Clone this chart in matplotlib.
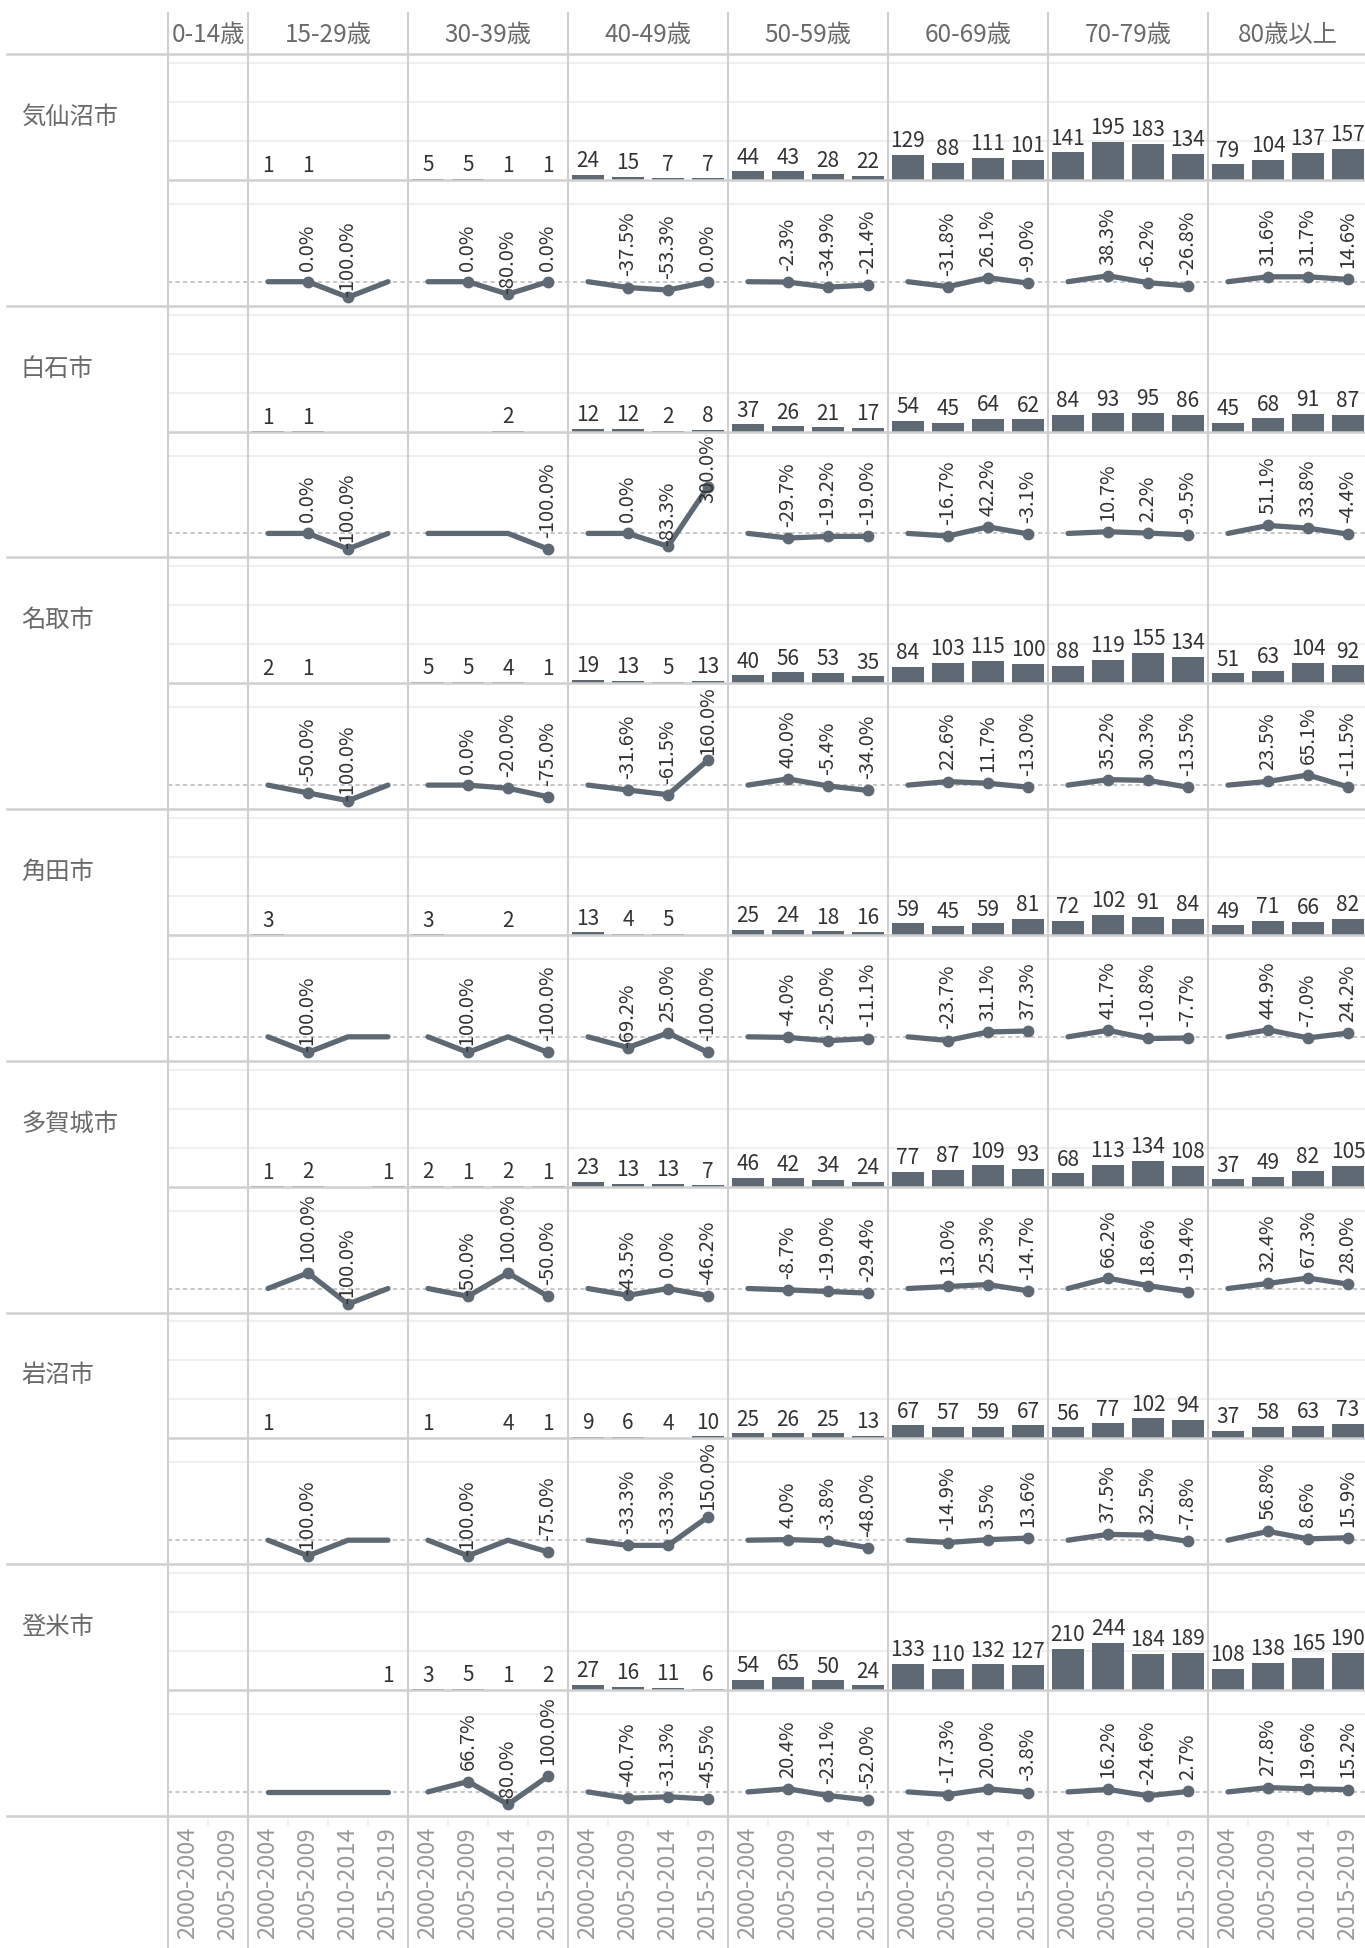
import numpy as np
import matplotlib
matplotlib.use("Agg")
import matplotlib.pyplot as plt

plt.rcParams['font.family'] = ['Noto Sans CJK JP', 'DejaVu Sans']

# ---------------- data ---------------- #
cities = ["気仙沼市", "白石市", "名取市", "角田市", "多賀城市", "岩沼市", "登米市"]
age_groups = ["0-14歳", "15-29歳", "30-39歳", "40-49歳", "50-59歳", "60-69歳", "70-79歳", "80歳以上"]
periods = ["2000-2004", "2005-2009", "2010-2014", "2015-2019"]
periods_per_group = [2, 4, 4, 4, 4, 4, 4, 4]

# counts per age group (None = no record)
kesennuma_counts = [[None, None], [1, 1, None, None], [5, 5, 1, 1], [24, 15, 7, 7], [44, 43, 28, 22],
                    [129, 88, 111, 101], [141, 195, 183, 134], [79, 104, 137, 157]]
shiroishi_counts = [[None, None], [1, 1, None, None], [None, None, 2, None], [12, 12, 2, 8], [37, 26, 21, 17],
                    [54, 45, 64, 62], [84, 93, 95, 86], [45, 68, 91, 87]]
natori_counts = [[None, None], [2, 1, None, None], [5, 5, 4, 1], [19, 13, 5, 13], [40, 56, 53, 35],
                 [84, 103, 115, 100], [88, 119, 155, 134], [51, 63, 104, 92]]
kakuda_counts = [[None, None], [3, None, None, None], [3, None, 2, None], [13, 4, 5, None], [25, 24, 18, 16],
                 [59, 45, 59, 81], [72, 102, 91, 84], [49, 71, 66, 82]]
tagajo_counts = [[None, None], [1, 2, None, 1], [2, 1, 2, 1], [23, 13, 13, 7], [46, 42, 34, 24],
                 [77, 87, 109, 93], [68, 113, 134, 108], [37, 49, 82, 105]]
iwanuma_counts = [[None, None], [1, None, None, None], [1, None, 4, 1], [9, 6, 4, 10], [25, 26, 25, 13],
                  [67, 57, 59, 67], [56, 77, 102, 94], [37, 58, 63, 73]]
tome_counts = [[None, None], [None, None, None, 1], [3, 5, 1, 2], [27, 16, 11, 6], [54, 65, 50, 24],
               [133, 110, 132, 127], [210, 244, 184, 189], [108, 138, 165, 190]]

# change vs previous period in % (None = not shown)
kesennuma_pct = [[None, None], [None, 0.0, -100.0, None], [None, 0.0, -80.0, 0.0], [None, -37.5, -53.3, 0.0],
                 [None, -2.3, -34.9, -21.4], [None, -31.8, 26.1, -9.0], [None, 38.3, -6.2, -26.8],
                 [None, 31.6, 31.7, 14.6]]
shiroishi_pct = [[None, None], [None, 0.0, -100.0, None], [None, None, None, -100.0], [None, 0.0, -83.3, 300.0],
                 [None, -29.7, -19.2, -19.0], [None, -16.7, 42.2, -3.1], [None, 10.7, 2.2, -9.5],
                 [None, 51.1, 33.8, -4.4]]
natori_pct = [[None, None], [None, -50.0, -100.0, None], [None, 0.0, -20.0, -75.0], [None, -31.6, -61.5, 160.0],
              [None, 40.0, -5.4, -34.0], [None, 22.6, 11.7, -13.0], [None, 35.2, 30.3, -13.5],
              [None, 23.5, 65.1, -11.5]]
kakuda_pct = [[None, None], [None, -100.0, None, None], [None, -100.0, None, -100.0], [None, -69.2, 25.0, -100.0],
              [None, -4.0, -25.0, -11.1], [None, -23.7, 31.1, 37.3], [None, 41.7, -10.8, -7.7],
              [None, 44.9, -7.0, 24.2]]
tagajo_pct = [[None, None], [None, 100.0, -100.0, None], [None, -50.0, 100.0, -50.0], [None, -43.5, 0.0, -46.2],
              [None, -8.7, -19.0, -29.4], [None, 13.0, 25.3, -14.7], [None, 66.2, 18.6, -19.4],
              [None, 32.4, 67.3, 28.0]]
iwanuma_pct = [[None, None], [None, -100.0, None, None], [None, -100.0, None, -75.0], [None, -33.3, -33.3, 150.0],
               [None, 4.0, -3.8, -48.0], [None, -14.9, 3.5, 13.6], [None, 37.5, 32.5, -7.8],
               [None, 56.8, 8.6, 15.9]]
tome_pct = [[None, None], [None, None, None, None], [None, 66.7, -80.0, 100.0], [None, -40.7, -31.3, -45.5],
            [None, 20.4, -23.1, -52.0], [None, -17.3, 20.0, -3.8], [None, 16.2, -24.6, 2.7],
            [None, 27.8, 19.6, 15.2]]

counts_by_city = [kesennuma_counts, shiroishi_counts, natori_counts, kakuda_counts,
                  tagajo_counts, iwanuma_counts, tome_counts]
pct_by_city = [kesennuma_pct, shiroishi_pct, natori_pct, kakuda_pct, tagajo_pct, iwanuma_pct, tome_pct]

# ---------------- layout ---------------- #
W, H, DPI = 1365, 1948, 100
X0, SLOT = 168, 40
HDR_TOP, TOP = 13, 54
BLOCK = 251.7
PANE = BLOCK / 2
N_SLOTS = sum(periods_per_group)
starts = np.concatenate([[0], np.cumsum(periods_per_group)[:-1]])

MARK = '#5e6974'
SEP = '#d0d0d0'
GRID = '#eeeeee'
TXT = '#333333'
HEAD = '#6a6a6a'

fig = plt.figure(figsize=(W / DPI, H / DPI), dpi=DPI)


def px_axes(x, y, w, h, **kw):
    return fig.add_axes([x / W, 1 - (y + h) / H, w / W, h / H], **kw)


def clean(ax):
    for s in ax.spines.values():
        s.set_visible(False)
    ax.set_facecolor('none')
    ax.tick_params(bottom=False, labelbottom=False, left=False, labelleft=False)
    ax.set_xlim(0, N_SLOTS)


pct_labels = []
line_axes = []
for ci, city in enumerate(cities):
    top = TOP + ci * BLOCK
    bar_ax = px_axes(X0, top, N_SLOTS * SLOT, PANE)
    line_ax = px_axes(X0, top + PANE, N_SLOTS * SLOT, PANE)
    line_axes.append(line_ax)
    for ax in (bar_ax, line_ax):
        clean(ax)
        ax.grid(axis='y', color=GRID, lw=1.3, zorder=0)
        ax.set_axisbelow(True)
    bar_ax.set_ylim(0, 646)
    bar_ax.set_yticks([200, 400, 600])
    line_ax.set_ylim(-154, 654)
    line_ax.set_yticks([500])
    line_ax.axhline(0, color='#bdbdbd', lw=1.2, ls=(0, (2.5, 2)), zorder=1)

    for g in range(len(age_groups)):
        counts = counts_by_city[ci][g]
        pct = pct_by_city[ci][g]
        xs = starts[g] + np.arange(len(counts)) + 0.5
        for x, v in zip(xs, counts):
            if v is None:
                continue
            bar_ax.bar(x, v, width=0.8, color=MARK, zorder=2)
            bar_ax.annotate(str(v), (x, v), xytext=(0, 2), textcoords='offset points',
                            ha='center', va='bottom', fontsize=15, color=TXT)
        if all(v is None for v in counts):
            continue
        ys = [0 if p is None else p for p in pct]
        line_ax.plot(xs, ys, color=MARK, lw=3.8, solid_capstyle='round', solid_joinstyle='round', zorder=3)
        for k, (x, p) in enumerate(zip(xs, pct)):
            if p is None:
                continue
            line_ax.plot(x, p, 'o', color=MARK, ms=7.5, zorder=4)
            gap = 8
            if 0 < k < len(ys) - 1 and ys[k - 1] >= p + 40 and ys[k + 1] >= p + 40:
                gap = 0
            ann = line_ax.annotate(f"{p:.1f}%", (x, p), xytext=(0, gap), textcoords='offset points',
                                   ha='center', va='bottom', rotation=90, fontsize=14.5, color=TXT,
                                   zorder=5)
            pct_labels.append((ann, line_ax))

# x axis labels on the bottom pane
last = line_axes[-1]
centers = np.arange(N_SLOTS) + 0.5
tick_labels = []
for n in periods_per_group:
    tick_labels += periods[:n]
last.tick_params(bottom=True, labelbottom=True)
last.set_xticks(centers)
last.set_xticklabels(tick_labels, rotation=90, fontsize=17, color='#9a9a9a', va='top')
last.tick_params(axis='x', which='major', length=0, pad=8)
last.set_xticks(np.arange(1, N_SLOTS), minor=True)
last.tick_params(axis='x', which='minor', length=7, width=1.2, color='#eeeeee')

# frame: separators, headers, city names
frame = px_axes(0, 0, W, H, zorder=10)
frame.set_xlim(0, W)
frame.set_ylim(H, 0)
frame.axis('off')
frame.patch.set_alpha(0)

bounds = X0 + np.concatenate([[0], np.cumsum(periods_per_group)]) * SLOT
for bx in bounds[:-1]:
    frame.plot([bx, bx], [HDR_TOP, H], color=SEP, lw=1.5)
frame.plot([7, W], [TOP, TOP], color=SEP, lw=1.8)
for ci in range(len(cities)):
    top = TOP + ci * BLOCK
    frame.plot([X0, W], [top + PANE, top + PANE], color=SEP, lw=1.8)
    frame.plot([7, W], [top + BLOCK, top + BLOCK], color=SEP, lw=1.8)
    frame.text(21, top + 63, cities[ci], ha='left', va='center', fontsize=17.5, color=HEAD)
for g, name in enumerate(age_groups):
    cx = (bounds[g] + bounds[g + 1]) / 2
    frame.text(cx, 35, name, ha='center', va='center', fontsize=17.5, color=HEAD)

# keep tall labels inside their pane
fig.canvas.draw()
r = fig.canvas.get_renderer()
for ann, ax in pct_labels:
    bb = ann.get_window_extent(r)
    limit = ax.get_window_extent(r).y1 - 3
    if bb.y1 > limit:
        dx, dy = ann.xyann
        ann.xyann = (dx, dy - (bb.y1 - limit) * 72 / DPI)

fig.savefig("out.png", dpi=DPI)
